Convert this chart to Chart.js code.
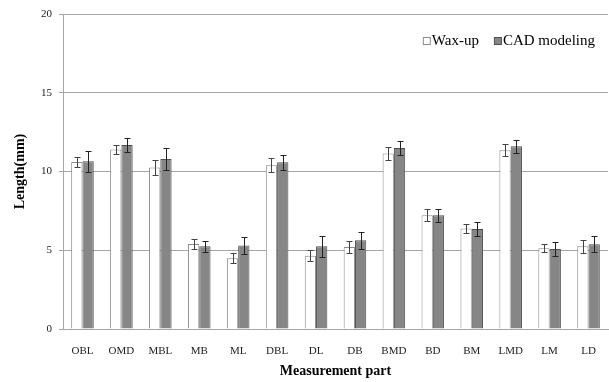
<!DOCTYPE html>
<html>
<head>
<meta charset="utf-8">
<script src="https://cdn.jsdelivr.net/npm/chart.js@4.4.1/dist/chart.umd.min.js"></script>
<style>
	html, body { margin: 0; padding: 0; background: #fff; }
	#wrap { width: 609px; height: 382px; }
</style>
</head>
<body>
<div id="wrap"><canvas id="myChart" width="609" height="382"></canvas></div>
<script>
const parts = ['OBL', 'OMD', 'MBL', 'MB', 'ML', 'DBL', 'DL', 'DB', 'BMD', 'BD', 'BM', 'LMD', 'LM', 'LD']
const waxUp = [10.6, 11.4, 10.25, 5.4, 4.5, 10.4, 4.65, 5.2, 11.15, 7.22, 6.38, 11.35, 5.12, 5.25]
const waxUpSd = [0.34, 0.26, 0.47, 0.3, 0.32, 0.45, 0.36, 0.37, 0.41, 0.38, 0.28, 0.38, 0.25, 0.4]
const cadModel = [10.65, 11.68, 10.8, 5.25, 5.3, 10.58, 5.25, 5.63, 11.5, 7.22, 6.35, 11.6, 5.08, 5.38]
const cadModelSd = [0.68, 0.43, 0.72, 0.36, 0.55, 0.49, 0.66, 0.54, 0.46, 0.42, 0.44, 0.42, 0.47, 0.5]
const yTicks = [0, 5, 10, 15, 20]

const serif = "'Liberation Serif', 'Times New Roman', serif"

// draws the +/- sd whiskers on each bar
const errorBars = {
	id: 'errorBars',
	afterDatasetsDraw(chart) {
		const ctx = chart.ctx
		const yScale = chart.scales.y
		chart.data.datasets.forEach((ds, i) => {
			const meta = chart.getDatasetMeta(i)
			meta.data.forEach((bar, j) => {
				const v = ds.data[j]
				const sd = ds.sd[j]
				const top = Math.round(yScale.getPixelForValue(v + sd)) + 0.5
				const bot = Math.round(yScale.getPixelForValue(v - sd)) + 0.5
				const x = Math.round(bar.x) + 0.5
				ctx.save()
				ctx.strokeStyle = ds.errColor
				ctx.lineWidth = 1
				ctx.beginPath()
				ctx.moveTo(x, top)
				ctx.lineTo(x, bot)
				ctx.moveTo(x - 3, top)
				ctx.lineTo(x + 3, top)
				ctx.moveTo(x - 3, bot)
				ctx.lineTo(x + 3, bot)
				ctx.stroke()
				ctx.restore()
			})
		})
	},
}

// small legend sitting inside the plot, top right
const innerLegend = {
	id: 'innerLegend',
	afterDraw(chart) {
		const ctx = chart.ctx
		const area = chart.chartArea
		ctx.save()
		ctx.font = '15px ' + serif
		ctx.textBaseline = 'middle'
		let x = area.right - 13
		const y = area.top + 27
		const items = chart.data.datasets.slice().reverse()
		items.forEach((ds) => {
			const w = ctx.measureText(ds.label).width
			x -= w
			ctx.fillStyle = '#000'
			ctx.fillText(ds.label, x, y)
			x -= 9
			ctx.fillStyle = ds.backgroundColor
			ctx.fillRect(x + 0.5, y - 3.5, 7, 7)
			ctx.strokeStyle = ds.borderColor
			ctx.lineWidth = 1
			ctx.strokeRect(x + 0.5, y - 3.5, 7, 7)
			x -= 15
		})
		ctx.restore()
	},
}

var ctx = document.getElementById('myChart').getContext('2d')
var myChart = new Chart(ctx, {
	type: 'bar',
	data: {
		labels: parts,
		datasets: [
			{
				label: 'Wax-up',
				data: waxUp,
				sd: waxUpSd,
				errColor: '#444',
				backgroundColor: '#ffffff',
				borderColor: '#8c8c8c',
				borderWidth: 1,
			},
			{
				label: 'CAD modeling',
				data: cadModel,
				sd: cadModelSd,
				errColor: '#222',
				backgroundColor: '#868686',
				borderColor: '#505050',
				borderWidth: 1,
			},
		],
	},
	options: {
		responsive: false,
		animation: false,
		layout: { padding: { top: 14, right: 1, left: 0, bottom: 0 } },
		datasets: {
			bar: { categoryPercentage: 0.58, barPercentage: 1 },
		},
		scales: {
			x: {
				grid: { display: false },
				border: { color: '#a6a6a6' },
				ticks: { color: '#222', font: { family: serif, size: 11 }, padding: 8, maxRotation: 0 },
				title: {
					display: true,
					text: 'Measurement part',
					color: '#000',
					font: { family: serif, size: 14, weight: 'bold' },
					padding: { top: 0, bottom: 2 },
				},
				afterFit: (scale) => {
					scale.height = 53
				},
			},
			y: {
				min: 0,
				max: 20,
				afterBuildTicks: (scale) => {
					scale.ticks = yTicks.map((v) => ({ value: v }))
				},
				grid: { color: '#a6a6a6', tickLength: 4 },
				border: { color: '#a6a6a6' },
				ticks: { color: '#222', font: { family: serif, size: 11 }, padding: 7 },
				title: {
					display: true,
					text: 'Length(mm)',
					color: '#000',
					font: { family: serif, size: 14, weight: 'bold' },
					padding: { top: 12, bottom: 0 },
				},
				afterFit: (scale) => {
					scale.width = 63
				},
			},
		},
		plugins: {
			legend: { display: false },
			tooltip: { enabled: false },
		},
	},
	plugins: [errorBars, innerLegend],
})
</script>
</body>
</html>
